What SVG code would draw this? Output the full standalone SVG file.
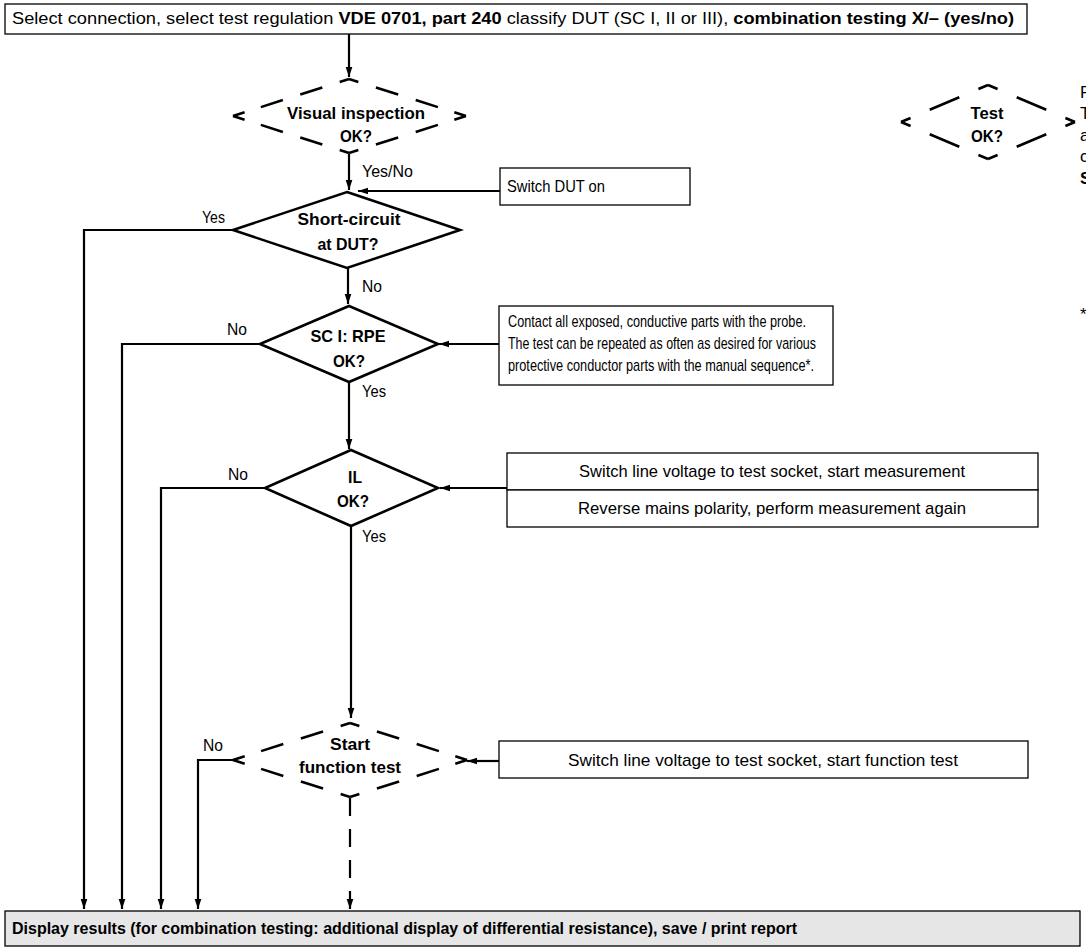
<svg xmlns="http://www.w3.org/2000/svg" width="1086" height="949" viewBox="0 0 1086 949">
<defs>
<marker id="ah" markerUnits="userSpaceOnUse" markerWidth="10" markerHeight="14" refX="12" refY="4" orient="auto" viewBox="0 0 12 8">
<path d="M0,0 L12,4 L0,8 Z" fill="#000"/>
</marker>
<style>
text{font-family:"Liberation Sans Narrow","Liberation Sans",Arial,sans-serif;fill:#000}
.t{font-size:16px}
.m{font-size:17px}
.b{font-size:17px;font-weight:bold}
.bx{fill:#fff;stroke:#000;stroke-width:1.3}
.gb{fill:#e6e6e6;stroke:#000;stroke-width:1.3}
.dm{fill:#fff;stroke:#000;stroke-width:2.6;stroke-linejoin:miter}
.dd{fill:none;stroke:#000;stroke-width:2.6}
.d1{stroke-dasharray:8 15 19 15 19 14 10}
.d2{stroke-dasharray:11 22 34 22 11}
.c{fill:none;stroke:#000;stroke-width:2.2}
.cd{fill:none;stroke:#000;stroke-width:2.2;stroke-dasharray:18 13}
</style>
</defs>

<g id="connectors">
<path class="c" d="M349,34 V77" marker-end="url(#ah)"/>
<path class="c" d="M349,154 V190" marker-end="url(#ah)"/>
<path class="c" d="M500,191 H358" marker-end="url(#ah)"/>
<path class="c" d="M233,230 H84 V909" marker-end="url(#ah)"/>
<path class="c" d="M348,268 V304" marker-end="url(#ah)"/>
<path class="c" d="M260,344 H122 V909" marker-end="url(#ah)"/>
<path class="c" d="M499,344 H439" marker-end="url(#ah)"/>
<path class="c" d="M349,382 V449" marker-end="url(#ah)"/>
<path class="c" d="M265,488 H161 V909" marker-end="url(#ah)"/>
<path class="c" d="M507,488 H440" marker-end="url(#ah)"/>
<path class="c" d="M351,526 V718" marker-end="url(#ah)"/>
<path class="c" d="M499,761 H467" marker-end="url(#ah)"/>
<path class="c" d="M234,760 H198 V909" marker-end="url(#ah)"/>
<path class="cd" d="M350,798 V897"/>
<path class="c" d="M350,897 V909" marker-end="url(#ah)"/>
<text class="m" x="362" y="177" textLength="51" lengthAdjust="spacingAndGlyphs">Yes/No</text>
<text class="m" x="202" y="223" textLength="23" lengthAdjust="spacingAndGlyphs">Yes</text>
<text class="m" x="362" y="292" textLength="20" lengthAdjust="spacingAndGlyphs">No</text>
<text class="m" x="227" y="335" textLength="20" lengthAdjust="spacingAndGlyphs">No</text>
<text class="m" x="362" y="397" textLength="24" lengthAdjust="spacingAndGlyphs">Yes</text>
<text class="m" x="228" y="480" textLength="20" lengthAdjust="spacingAndGlyphs">No</text>
<text class="m" x="362" y="542" textLength="24" lengthAdjust="spacingAndGlyphs">Yes</text>
<text class="m" x="203" y="751" textLength="20" lengthAdjust="spacingAndGlyphs">No</text>
</g>

<g id="header">
<rect class="bx" x="5" y="4" width="1022" height="30"/>
<text class="t" x="12" y="24" textLength="1002" lengthAdjust="spacingAndGlyphs">Select connection, select test regulation <tspan font-weight="bold">VDE 0701, part 240</tspan> classify DUT (SC I, II or III), <tspan font-weight="bold">combination testing X/– (yes/no)</tspan></text>
</g>

<g id="visual-inspection">
<path class="dd d1" pathLength="100" d="M349,79 L233,116"/>
<path class="dd d1" pathLength="100" d="M349,79 L466,116"/>
<path class="dd d1" pathLength="100" d="M349,153 L233,116"/>
<path class="dd d1" pathLength="100" d="M349,153 L466,116"/>
<text class="b" x="356" y="119" text-anchor="middle" textLength="138" lengthAdjust="spacingAndGlyphs">Visual inspection</text>
<text class="b" x="356" y="142" text-anchor="middle" textLength="32" lengthAdjust="spacingAndGlyphs">OK?</text>
</g>

<g id="test-ok-legend">
<path class="dd d2" pathLength="100" d="M988,85 L901,122"/>
<path class="dd d2" pathLength="100" d="M988,85 L1075,122"/>
<path class="dd d2" pathLength="100" d="M988,159 L901,122"/>
<path class="dd d2" pathLength="100" d="M988,159 L1075,122"/>
<text class="b" x="987" y="119" text-anchor="middle" textLength="33" lengthAdjust="spacingAndGlyphs">Test</text>
<text class="b" x="987" y="142" text-anchor="middle" textLength="32" lengthAdjust="spacingAndGlyphs">OK?</text>
</g>

<g id="legend-text">
<text class="m" x="1080" y="98">F</text>
<text class="m" x="1080" y="119">T</text>
<text class="m" x="1080" y="141">a</text>
<text class="m" x="1080" y="162">c</text>
<text class="m" x="1080" y="184" font-weight="bold">S</text>
<text class="m" x="1080" y="320" font-size="11">*</text>
</g>

<g id="switch-dut-on">
<rect class="bx" x="500" y="168" width="190" height="37"/>
<text class="m" x="507" y="192" textLength="98" lengthAdjust="spacingAndGlyphs">Switch DUT on</text>
</g>

<g id="short-circuit">
<polygon class="dm" points="347,192 460,230 347,268 233,230"/>
<text class="b" x="349" y="225" text-anchor="middle" textLength="103" lengthAdjust="spacingAndGlyphs">Short-circuit</text>
<text class="b" x="348" y="250" text-anchor="middle" textLength="61" lengthAdjust="spacingAndGlyphs">at DUT?</text>
</g>

<g id="sc1-rpe">
<polygon class="dm" points="349,306 438,344 349,382 260,344"/>
<text class="b" x="348" y="342" text-anchor="middle" textLength="75" lengthAdjust="spacingAndGlyphs">SC I: RPE</text>
<text class="b" x="349" y="367" text-anchor="middle" textLength="32" lengthAdjust="spacingAndGlyphs">OK?</text>
</g>

<g id="probe-box">
<rect class="bx" x="499" y="306" width="334" height="79"/>
<text class="m" x="508" y="327" textLength="298" lengthAdjust="spacingAndGlyphs">Contact all exposed, conductive parts with the probe.</text>
<text class="m" x="508" y="349" textLength="308" lengthAdjust="spacingAndGlyphs">The test can be repeated as often as desired for various</text>
<text class="m" x="508" y="371" textLength="306" lengthAdjust="spacingAndGlyphs">protective conductor parts with the manual sequence*.</text>
</g>

<g id="il">
<polygon class="dm" points="351,450 438,488 351,526 265,488"/>
<text class="b" x="355" y="483" text-anchor="middle" textLength="14" lengthAdjust="spacingAndGlyphs">IL</text>
<text class="b" x="353" y="507" text-anchor="middle" textLength="32" lengthAdjust="spacingAndGlyphs">OK?</text>
</g>

<g id="il-boxes">
<rect class="bx" x="507" y="453" width="531" height="37"/>
<rect class="bx" x="507" y="490" width="531" height="37"/>
<text class="m" x="772" y="477" text-anchor="middle" textLength="386" lengthAdjust="spacingAndGlyphs">Switch line voltage to test socket, start measurement</text>
<text class="m" x="772" y="514" text-anchor="middle" textLength="388" lengthAdjust="spacingAndGlyphs">Reverse mains polarity, perform measurement again</text>
</g>

<g id="start-function-test">
<path class="dd d1" pathLength="100" d="M350,723 L233,760"/>
<path class="dd d1" pathLength="100" d="M350,723 L467,760"/>
<path class="dd d1" pathLength="100" d="M350,797 L233,760"/>
<path class="dd d1" pathLength="100" d="M350,797 L467,760"/>
<text class="b" x="350" y="750" text-anchor="middle" textLength="40" lengthAdjust="spacingAndGlyphs">Start</text>
<text class="b" x="350" y="773" text-anchor="middle" textLength="102" lengthAdjust="spacingAndGlyphs">function test</text>
</g>

<g id="function-box">
<rect class="bx" x="499" y="741" width="529" height="37"/>
<text class="m" x="763" y="766" text-anchor="middle" textLength="390" lengthAdjust="spacingAndGlyphs">Switch line voltage to test socket, start function test</text>
</g>

<g id="results">
<rect class="gb" x="5" y="911" width="1075" height="35"/>
<text class="m" x="12" y="934" font-weight="bold" textLength="785" lengthAdjust="spacingAndGlyphs">Display results (for combination testing: additional display of differential resistance), save / print report</text>
</g>
</svg>
